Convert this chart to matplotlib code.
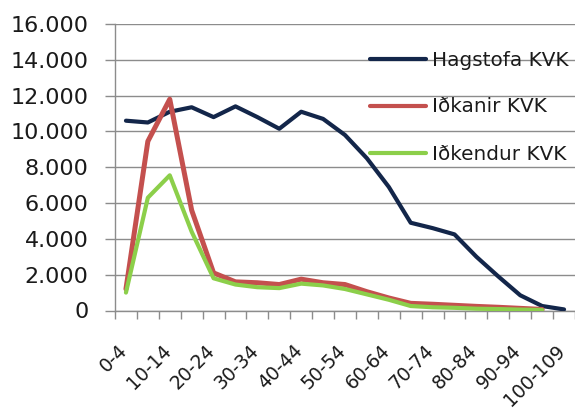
import numpy as np
import matplotlib
matplotlib.use("Agg")
import matplotlib.pyplot as plt
from matplotlib.ticker import FuncFormatter, FixedLocator
from matplotlib.transforms import ScaledTranslation

categories = ["0-4", "5-9", "10-14", "15-19", "20-24", "25-29", "30-34", "35-39",
              "40-44", "45-49", "50-54", "55-59", "60-64", "65-69", "70-74", "75-79",
              "80-84", "85-89", "90-94", "95-99", "100-109"]
hagstofa = [10600, 10500, 11100, 11350, 10800, 11400, 10800, 10150, 11100, 10700,
            9800, 8500, 6900, 4900, 4600, 4250, 3000, 1900, 850, 250, 60]
idkanir = [1200, 9450, 11800, 5600, 2100, 1600, 1550, 1450, 1750, 1550,
           1450, 1050, 700, 400, 350, 290, 230, 180, 120, 60, np.nan]
idkendur = [1000, 6300, 7550, 4400, 1800, 1450, 1300, 1250, 1500, 1400,
            1200, 900, 600, 250, 180, 150, 100, 80, 50, 30, np.nan]
series_names = ["Hagstofa KVK", "Iðkanir KVK", "Iðkendur KVK"]
yticks = [0, 2000, 4000, 6000, 8000, 10000, 12000, 14000, 16000]

plt.rcParams['font.family'] = ['DejaVu Sans']

fig = plt.figure(figsize=(5.75, 4.12), dpi=100)
ax = fig.add_axes([115/575, 1-310.5/412, 460/575, (310.5-24)/412])

x = np.arange(len(categories))
ax.plot(x, hagstofa, color='#13264a', lw=3.0, solid_joinstyle='round', solid_capstyle='round', label=series_names[0], zorder=3)
ax.plot(x, idkanir, color='#c4504e', lw=3.6, solid_joinstyle='round', solid_capstyle='round', label=series_names[1], zorder=4)
ax.plot(x, idkendur, color='#8ccf4a', lw=3.0, solid_joinstyle='round', solid_capstyle='round', label=series_names[2], zorder=5)

ax.set_xlim(-0.5, len(categories) - 0.5)
ax.set_ylim(0, 16000)
ax.set_yticks(yticks)
ax.yaxis.set_major_formatter(FuncFormatter(lambda v, p: f"{int(v):,}".replace(",", ".")))
ax.grid(axis='y', color='#8c8c8c', lw=1.0, zorder=0)
ax.set_axisbelow(True)

# x ticks at category boundaries, labels at every other category center
ax.xaxis.set_major_locator(FixedLocator(np.arange(-0.5, len(categories), 1.0)))
ax.set_xticklabels([])
ax.tick_params(axis='x', which='major', length=6, width=1, color='#8c8c8c', direction='out')
ax.xaxis.set_minor_locator(FixedLocator(x[::2]))
ax.set_xticklabels([categories[i] for i in x[::2]], minor=True, rotation=45,
                   ha='right', va='top', fontsize=13.5, color='#1a1a1a')
ax.tick_params(axis='x', which='minor', length=0, pad=22)
offset = ScaledTranslation(5/100, 0, fig.dpi_scale_trans)
for lbl in ax.xaxis.get_minorticklabels():
    lbl.set_transform(lbl.get_transform() + offset)

ax.tick_params(axis='y', length=7, width=1, color='#8c8c8c', labelsize=16, labelcolor='#1a1a1a', pad=12)

for s in ['top', 'right']:
    ax.spines[s].set_visible(False)
for s in ['left', 'bottom']:
    ax.spines[s].set_color('#8c8c8c')
    ax.spines[s].set_linewidth(1.0)

leg = ax.legend(loc='upper left', bbox_to_anchor=(370/575, 1-50.5/412), bbox_transform=fig.transFigure,
                frameon=False, fontsize=14.4, handlelength=2.8, handletextpad=0.3,
                labelspacing=1.4, borderaxespad=0, borderpad=0)
for t in leg.get_texts():
    t.set_color('#1a1a1a')
for h in leg.get_lines():
    h.set_linewidth(3.0)

fig.savefig("out.png", dpi=100)
